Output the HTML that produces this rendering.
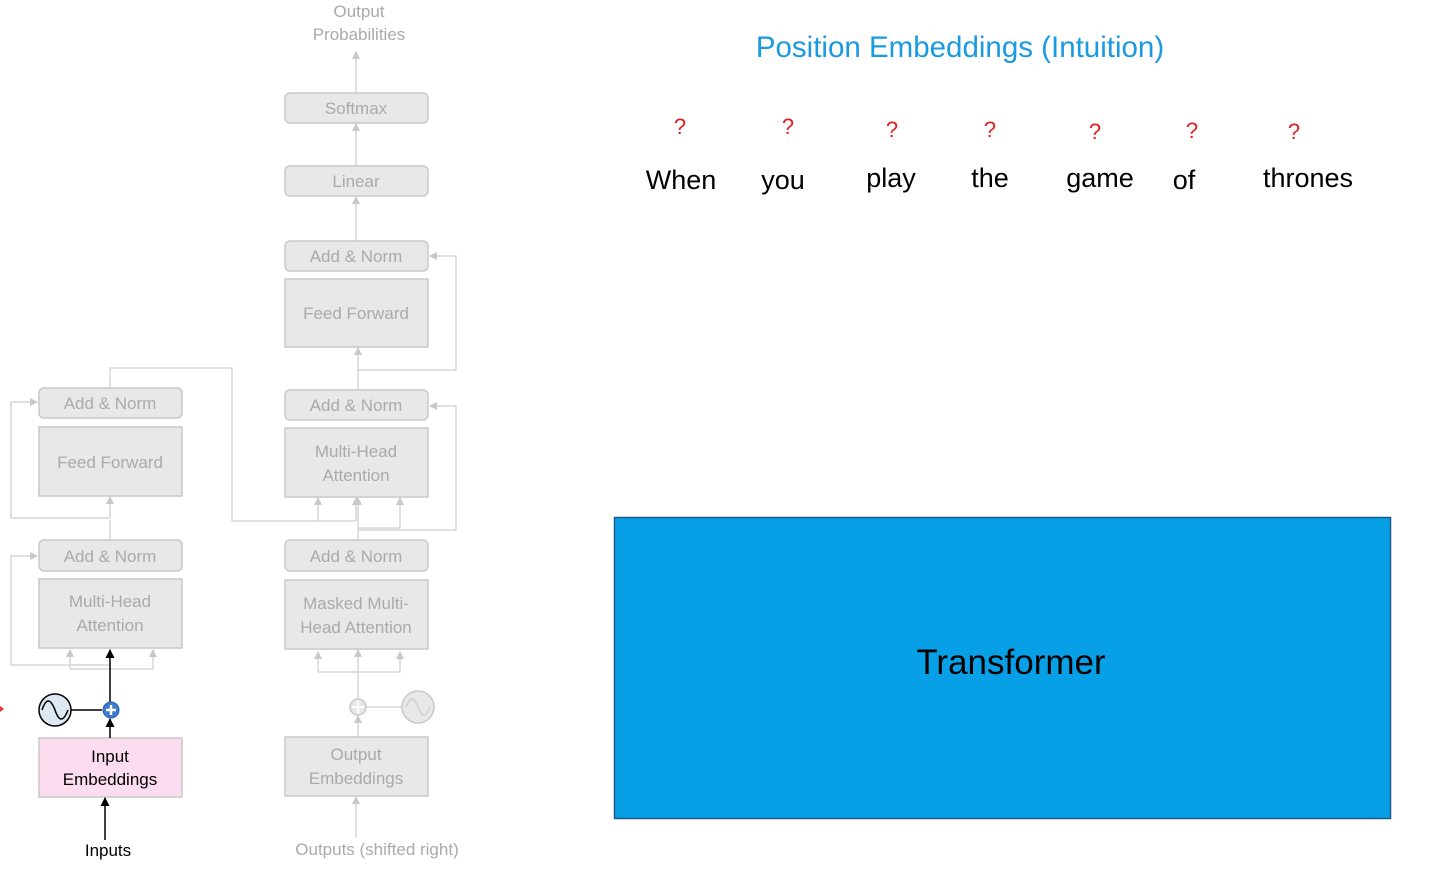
<!DOCTYPE html>
<html><head><meta charset="utf-8"><style>
body{margin:0;background:#fff;width:1433px;height:864px;overflow:hidden;font-family:"Liberation Sans",sans-serif}
</style></head><body>
<svg width="1433" height="864" xmlns="http://www.w3.org/2000/svg" font-family="Liberation Sans, sans-serif">
<defs>
<marker id="ag" markerWidth="8" markerHeight="8" refX="7" refY="4" orient="auto" markerUnits="userSpaceOnUse"><path d="M0,0 L8,4 L0,8z" fill="#c8c8c8"/></marker>
<marker id="ab" markerWidth="9" markerHeight="9" refX="8" refY="4.5" orient="auto" markerUnits="userSpaceOnUse"><path d="M0,0 L9,4.5 L0,9z" fill="#000"/></marker>
</defs>
<g stroke="#d6d6d6" stroke-width="1.5" fill="none">
<line x1="356" y1="93" x2="356" y2="52" marker-end="url(#ag)"/>
<line x1="356" y1="166" x2="356" y2="124" marker-end="url(#ag)"/>
<line x1="356" y1="241" x2="356" y2="197" marker-end="url(#ag)"/>
<line x1="358" y1="390" x2="358" y2="348" marker-end="url(#ag)"/>
<polyline points="358,370 456,370 456,256 430,256" marker-end="url(#ag)"/>
<polyline points="358,530 456,530 456,406 430,406" marker-end="url(#ag)"/>
<line x1="358" y1="540" x2="358" y2="498" marker-end="url(#ag)"/>
<polyline points="110,388 110,368 232,368 232,521 356,521"/>
<line x1="318" y1="521" x2="318" y2="498" marker-end="url(#ag)"/>
<line x1="356" y1="521" x2="356" y2="498" marker-end="url(#ag)"/>
<polyline points="358,528 400,528 400,498" marker-end="url(#ag)"/>
<line x1="358" y1="700" x2="358" y2="650" marker-end="url(#ag)"/>
<polyline points="318,672 318,652" marker-end="url(#ag)"/>
<polyline points="318,672 400,672 400,652" marker-end="url(#ag)"/>
<line x1="358" y1="737" x2="358" y2="716" marker-end="url(#ag)"/>
<line x1="366" y1="707" x2="402" y2="707"/>
<line x1="356" y1="838" x2="356" y2="797" marker-end="url(#ag)"/>
<polyline points="110,518 11,518 11,402 37,402" marker-end="url(#ag)"/>
<line x1="110" y1="518" x2="110" y2="497" marker-end="url(#ag)"/>
<line x1="110" y1="540" x2="110" y2="520"/>
<polyline points="110,665 11,665 11,556 37,556" marker-end="url(#ag)"/>
<polyline points="70,669 70,650" marker-end="url(#ag)"/>
<polyline points="70,669 153,669 153,650" marker-end="url(#ag)"/>
</g>
<g stroke="#c8c8c8" stroke-width="1.5" fill="#e8e8e8">
<rect x="285" y="93" width="143" height="30" rx="5"/>
<rect x="285" y="166" width="143" height="30" rx="5"/>
<rect x="285" y="241" width="143" height="30" rx="5"/>
<rect x="285" y="279" width="143" height="68"/>
<rect x="285" y="390" width="143" height="30" rx="5"/>
<rect x="285" y="428" width="143" height="69"/>
<rect x="285" y="540" width="143" height="31" rx="5"/>
<rect x="285" y="580" width="143" height="69"/>
<rect x="285" y="737" width="143" height="59"/>
<rect x="39" y="388" width="143" height="30" rx="5"/>
<rect x="39" y="427" width="143" height="69"/>
<rect x="39" y="540" width="143" height="31" rx="5"/>
<rect x="39" y="579" width="143" height="69"/>
<circle cx="358" cy="707" r="8"/>
<circle cx="418" cy="707" r="16"/>
</g>
<path d="M352,707 h12 M358,701 v12" stroke="#fff" stroke-width="2"/>
<path d="M406,707 q6,-16 12,0 q6,16 12,0" stroke="#d0d0d0" stroke-width="1.5" fill="none"/>
<rect x="39" y="738" width="143" height="59" fill="#fcdcef" stroke="#c8c8c8" stroke-width="1.5"/>
<g fill="#aaa" font-size="17" text-anchor="middle">
<text x="359" y="17">Output</text>
<text x="359" y="40">Probabilities</text>
<text x="356" y="114">Softmax</text>
<text x="356" y="187">Linear</text>
<text x="356" y="262">Add &amp; Norm</text>
<text x="356" y="319">Feed Forward</text>
<text x="356" y="411">Add &amp; Norm</text>
<text x="356" y="457">Multi-Head</text>
<text x="356" y="481">Attention</text>
<text x="356" y="562">Add &amp; Norm</text>
<text x="356" y="609">Masked Multi-</text>
<text x="356" y="633">Head Attention</text>
<text x="356" y="760">Output</text>
<text x="356" y="784">Embeddings</text>
<text x="377" y="855">Outputs (shifted right)</text>
<text x="110" y="409">Add &amp; Norm</text>
<text x="110" y="468">Feed Forward</text>
<text x="110" y="562">Add &amp; Norm</text>
<text x="110" y="607">Multi-Head</text>
<text x="110" y="631">Attention</text>
</g>
<g stroke="#000" stroke-width="1.5" fill="none">
<line x1="110" y1="702" x2="110" y2="650" marker-end="url(#ab)"/>
<line x1="110" y1="738" x2="110" y2="719" marker-end="url(#ab)"/>
<line x1="105" y1="840" x2="105" y2="798" marker-end="url(#ab)"/>
<line x1="71" y1="710" x2="102" y2="710"/>
<circle cx="55" cy="710" r="16" fill="#dde8f3"/>
<path d="M42,710 q6,-18 13,0 q6,18 13,0"/>
</g>
<circle cx="111" cy="710" r="8" fill="#3d7bd0" stroke="#2a5fb0"/>
<path d="M106,710 h10 M111,705 v10" stroke="#fff" stroke-width="2.5"/>
<path d="M0,706 l4,3 l-4,3z" fill="#e33"/>
<g fill="#000" font-size="17" text-anchor="middle">
<text x="110" y="762">Input</text>
<text x="110" y="785">Embeddings</text>
<text x="108" y="856">Inputs</text>
</g>
<text x="960" y="57" font-size="29.5" fill="#1a9ae0" text-anchor="middle">Position Embeddings (Intuition)</text>
<g fill="#e02020" font-size="22" text-anchor="middle">
<text x="680" y="134">?</text><text x="788" y="134">?</text><text x="892" y="137">?</text>
<text x="990" y="137">?</text><text x="1095" y="139">?</text><text x="1192" y="138">?</text><text x="1294" y="139">?</text>
</g>
<g fill="#000" font-size="27" text-anchor="middle">
<text x="681" y="189">When</text><text x="783" y="189">you</text><text x="891" y="187">play</text>
<text x="990" y="187">the</text><text x="1100" y="187">game</text><text x="1184" y="189">of</text><text x="1308" y="187">thrones</text>
</g>
<rect x="614.5" y="517.5" width="776" height="301" fill="#07a0e6" stroke="#1d5a8a" stroke-width="1.5"/>
<text x="1011" y="674" font-size="35" fill="#000" text-anchor="middle">Transformer</text>
</svg>
</body></html>
